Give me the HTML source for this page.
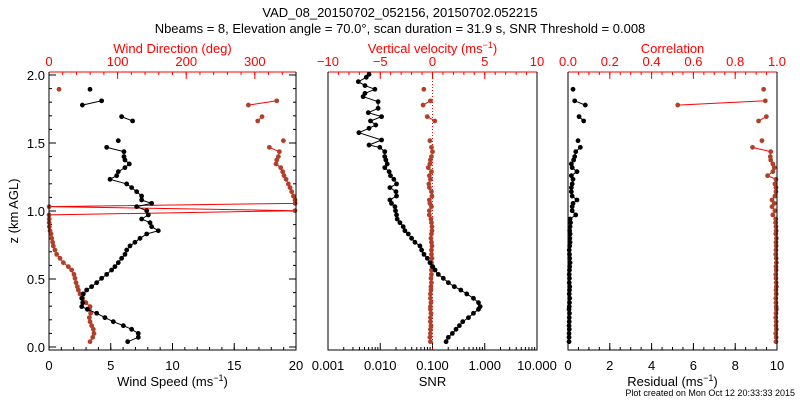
<!DOCTYPE html>
<html><head><meta charset="utf-8"><style>
html,body{margin:0;padding:0;background:#fff;}
svg{display:block;font-family:"Liberation Sans",sans-serif;}
</style></head><body>
<svg id="chart" width="800" height="400" viewBox="0 0 800 400" xmlns="http://www.w3.org/2000/svg">
<rect width="800" height="400" fill="#fff"/>
<text x="400" y="17" font-size="13" text-anchor="middle">VAD_08_20150702_052156, 20150702.052215</text>
<text x="400" y="33" font-size="13" text-anchor="middle">Nbeams = 8, Elevation angle = 70.0°, scan duration = 31.9 s, SNR Threshold = 0.008</text>
<text transform="translate(18,211) rotate(-90)" font-size="13" text-anchor="middle">z (km AGL)</text>
<text x="795" y="396" font-size="9" text-anchor="end">Plot created on Mon Oct 12 20:33:33 2015</text>
<g id="plots"></g>
</svg>
<script>
// Height gates (km AGL); null-valued entries break the connecting lines
const zGates = [0.039,0.071,0.100,0.130,0.157,0.186,0.216,0.248,0.277,0.297,0.326,0.358,0.390,0.419,0.444,0.473,0.505,0.534,0.566,0.591,0.620,0.652,0.681,0.713,0.743,0.770,0.799,0.831,0.855,0.885,0.914,0.941,0.971,1.002,1.032,1.056,1.081,1.110,1.142,1.172,1.199,1.233,1.260,1.289,1.319,1.346,1.375,1.400,1.436,1.468,1.490,1.517,1.580,1.662,1.694,1.740,1.779,1.810,1.850,1.895];
const windSpeed = [6.37,7.23,7.23,6.69,6.02,5.21,4.53,3.86,3.10,2.65,2.73,2.65,2.78,3.05,3.45,3.86,4.26,4.67,5.07,5.34,5.61,5.88,6.15,6.29,6.56,6.96,7.37,7.91,8.85,8.31,8.18,7.50,8.04,7.91,7.10,8.31,7.50,7.50,7.10,6.69,6.29,4.94,5.48,5.61,6.15,6.50,6.15,6.07,6.07,4.67,null,5.61,null,6.77,5.88,null,2.70,4.26,null,3.32];
const windDir = [59.8,63.7,65.6,64.6,62.2,59.8,58.8,60.7,58.8,59.8,53.9,49.1,45.2,42.8,41.3,39.4,37.9,36.4,33.0,28.2,20.9,16.0,11.2,8.7,6.3,5.3,3.9,2.9,1.5,0.5,0.2,0.3,0.1,358.5,0.2,358.8,358.6,356.2,353.7,351.3,348.9,345.5,342.6,340.6,337.7,330.9,331.9,334.3,335.8,321.2,null,341.6,null,304.2,310.5,null,290.6,331.9,null,14.6];
const vertVel = [-0.2,-0.25,-0.2,-0.2,-0.15,-0.2,-0.2,-0.15,-0.2,-0.2,-0.15,-0.2,-0.2,-0.15,-0.15,-0.1,-0.15,-0.1,-0.1,-0.05,-0.1,-0.05,-0.1,-0.1,-0.05,-0.1,-0.15,-0.1,-0.05,-0.05,-0.1,-0.15,-0.3,-0.3,-0.1,-0.25,-0.3,-0.05,-0.1,-0.3,-0.35,-0.2,-0.3,-0.1,-0.4,-0.25,-0.2,-0.1,0.0,-0.1,null,-0.25,null,0.22,-0.5,null,-0.9,-0.2,null,-0.83];
const residual = [0.05,0.05,0.05,0.06,0.05,0.06,0.06,0.07,0.05,0.06,0.07,0.08,0.06,0.07,0.08,0.06,0.07,0.06,0.07,0.08,0.1,0.08,0.07,0.06,0.08,0.1,0.09,0.1,0.08,0.1,0.12,0.1,0.37,0.2,0.2,0.24,0.43,0.2,0.16,0.16,0.2,0.24,0.16,0.43,0.2,0.16,0.27,0.32,0.37,0.59,null,0.48,null,0.75,0.53,null,0.83,0.32,null,0.24];
const correlation = [0.995,0.996,0.994,0.997,0.995,0.996,0.994,0.995,0.997,0.996,0.995,0.994,0.996,0.995,0.997,0.996,0.995,0.994,0.996,0.995,0.997,0.996,0.994,0.995,0.996,0.995,0.997,0.994,0.996,0.995,0.993,0.994,0.98,0.99,0.976,0.987,0.976,0.99,0.995,0.995,0.99,0.995,0.955,0.98,0.987,0.98,0.97,0.968,0.97,0.883,null,0.928,null,0.912,0.949,null,0.525,0.944,null,0.936];
// SNR profile (continuous)
const snrZ = [0.039,0.071,0.100,0.130,0.157,0.186,0.216,0.248,0.277,0.297,0.326,0.358,0.390,0.419,0.444,0.473,0.505,0.534,0.566,0.591,0.620,0.652,0.681,0.713,0.743,0.770,0.799,0.831,0.855,0.885,0.914,0.941,0.971,1.002,1.032,1.056,1.081,1.110,1.142,1.172,1.199,1.233,1.260,1.289,1.319,1.346,1.375,1.400,1.436,1.468,1.485,1.522,1.576,1.608,1.632,1.662,1.694,1.723,1.755,1.804,1.841,1.865,1.895,1.922,1.951,1.983,2.005];
const snr = [0.182,0.201,0.240,0.282,0.327,0.379,0.488,0.608,0.759,0.817,0.759,0.608,0.453,0.348,0.262,0.201,0.161,0.129,0.112,0.101,0.0895,0.0796,0.0687,0.0619,0.0575,0.0461,0.0398,0.0344,0.0296,0.0275,0.0238,0.0211,0.0205,0.0196,0.0191,0.0164,0.0153,0.0205,0.0200,0.0153,0.0205,0.0182,0.0157,0.0148,0.0122,0.0136,0.0128,0.0122,0.0122,0.0098,0.0061,0.0106,0.0039,0.0061,0.0082,0.0065,0.0106,0.0059,0.0091,0.0091,0.0047,0.0051,0.0079,0.0051,0.0038,0.0054,0.0061];
const zTickLabels = ["0.0","0.5","1.0","1.5","2.0"];
const speedTickLabels = ["0","5","10","15","20"];
const dirTickLabels = ["0","100","200","300"];
const snrTickLabels = ["0.001","0.010","0.100","1.000","10.000"];
const velTickLabels = ["\u221210","\u22125","0","5","10"];
const resTickLabels = ["0","2","4","6","8","10"];
const corTickLabels = ["0.0","0.2","0.4","0.6","0.8","1.0"];

const NS="http://www.w3.org/2000/svg";
const root=document.getElementById('plots');
const TOP=72,BOT=350,Z0=347,Z2=75;
const BROWN="#b0402a", RED="#ff0000";
function zy(z){return Z0+(Z2-Z0)*z/2;}
function mk(tag,attrs,parent){const e=document.createElementNS(NS,tag);for(const k in attrs)e.setAttribute(k,attrs[k]);(parent||root).appendChild(e);return e;}
function lin(a,b,x0,x1){return v=>x0+(v-a)/(b-a)*(x1-x0);}
function logs(a,b,x0,x1){return v=>x0+(Math.log10(v)-Math.log10(a))/(Math.log10(b)-Math.log10(a))*(x1-x0);}

function drawSeries(g,xf,zs,vals,lineColor,markColor,name){
  let d="",pen=false;
  for(let i=0;i<vals.length;i++){
    if(vals[i]===null){pen=false;continue;}
    const x=xf(vals[i]).toFixed(1),y=zy(zs[i]).toFixed(1);
    d+=(pen?"L":"M")+x+" "+y+" ";pen=true;
  }
  const p=mk('path',{d:d,fill:'none',stroke:lineColor,'stroke-width':1},g);
  
  
  for(let i=0;i<vals.length;i++){
    if(vals[i]===null)continue;
    const c=mk('circle',{cx:xf(vals[i]),cy:zy(zs[i]),r:2.4,fill:markColor},g);
    
    
  }
}

function panel(opt){
  const g=mk('g',{});
  
  
  const x0=opt.x0,x1=opt.x1;
  // bottom ticks
  const bf=opt.bottomScale;
  opt.bottomMinor.forEach(v=>{const x=bf(v);mk('line',{x1:x,x2:x,y1:BOT,y2:BOT-3,stroke:'#000'},g);});
  opt.bottomMajor.forEach((v,i)=>{const x=bf(v);mk('line',{x1:x,x2:x,y1:BOT,y2:BOT-7,stroke:'#000'},g);
    const t=mk('text',{x:x,y:370,'font-size':13,'text-anchor':'middle'},g);t.textContent=opt.bottomLabels[i];
    
    });
  const bt=mk('text',{x:(x0+x1)/2,y:386,'font-size':13,'text-anchor':'middle'},g);
  
  
  bt.innerHTML=opt.bottomTitle;
  // top ticks (red)
  const tf=opt.topScale;
  mk('line',{x1:x0,x2:x1,y1:TOP,y2:TOP,stroke:RED},g);
  opt.topMinor.forEach(v=>{const x=tf(v);mk('line',{x1:x,x2:x,y1:TOP,y2:TOP+3,stroke:RED},g);});
  opt.topMajor.forEach((v,i)=>{const x=tf(v);mk('line',{x1:x,x2:x,y1:TOP,y2:TOP+7,stroke:RED},g);
    const t=mk('text',{x:x,y:66,'font-size':13,'text-anchor':'middle',fill:RED},g);t.textContent=opt.topLabels[i];
    
    });
  const tt=mk('text',{x:(x0+x1)/2,y:53,'font-size':13,'text-anchor':'middle',fill:RED},g);
  
  
  tt.innerHTML=opt.topTitle;
  if(opt.zeroLine){const x=tf(0);const l=mk('line',{x1:x,x2:x,y1:TOP,y2:BOT,stroke:RED,'stroke-dasharray':'1,2'},g);
    
    }
  if(opt.yTicks){
    for(let k=0;k<=20;k++){const z=k/10,y=zy(z),len=(k%5==0)?7:3;
      mk('line',{x1:x0,x2:x0+len,y1:y,y2:y,stroke:'#000'},g);
      mk('line',{x1:x1,x2:x1-len,y1:y,y2:y,stroke:'#000'},g);}
    zTickLabels.forEach((s,i)=>{const t=mk('text',{x:x0-4,y:zy(i*0.5)+5,'font-size':13,'text-anchor':'end'},g);t.textContent=s;
      
      });
  }
  opt.series(g);
  const fr=mk('path',{d:`M${x0} ${TOP}V${BOT}H${x1}V${TOP}`,fill:'none',stroke:'#000'},g);
  
  
}
function range(a,b,s){const r=[];for(let v=a;v<=b+1e-9;v+=s)r.push(+v.toFixed(6));return r;}

// Panel 1
(function(){
  const x0=49,x1=296;
  const sx=lin(0,20,x0,x1), dx=lin(0,360,x0,x1);
  panel({name:'wind-panel',x0,x1,bottomScale:sx,bottomMajor:[0,5,10,15,20],bottomMinor:range(0,20,1),bottomLabels:speedTickLabels,
    bottomTitle:'Wind Speed (ms<tspan baseline-shift="super" font-size="9">\u22121</tspan>)',
    topScale:dx,topMajor:[0,100,200,300],topMinor:range(0,360,20),topLabels:dirTickLabels,topTitle:'Wind Direction (deg)',yTicks:true,
    series:g=>{drawSeries(g,dx,zGates,windDir,RED,BROWN,'wind-direction');drawSeries(g,sx,zGates,windSpeed,'#000','#000','wind-speed');}});
})();
// Panel 2
(function(){
  const x0=328,x1=537;
  const sx=logs(0.001,10,x0,x1), vx=lin(-10,10,x0,x1);
  const minor=[];for(let e=-3;e<1;e++)for(let m=2;m<=9;m++)minor.push(m*Math.pow(10,e));
  panel({name:'snr-panel',x0,x1,bottomScale:sx,bottomMajor:[0.001,0.01,0.1,1,10],bottomMinor:minor,bottomLabels:snrTickLabels,
    bottomTitle:'SNR',topScale:vx,topMajor:[-10,-5,0,5,10],topMinor:range(-10,10,1),topLabels:velTickLabels,
    topTitle:'Vertical velocity (ms<tspan baseline-shift="super" font-size="9">\u22121</tspan>)',zeroLine:true,
    series:g=>{drawSeries(g,vx,zGates,vertVel,RED,BROWN,'vertical-velocity');drawSeries(g,sx,snrZ,snr,'#000','#000','snr');}});
})();
// Panel 3
(function(){
  const x0=568,x1=777;
  const rx=lin(0,10,x0,x1), cx=lin(0,1,x0,x1);
  panel({name:'residual-panel',x0,x1,bottomScale:rx,bottomMajor:[0,2,4,6,8,10],bottomMinor:range(0,10,0.5),bottomLabels:resTickLabels,
    bottomTitle:'Residual (ms<tspan baseline-shift="super" font-size="9">\u22121</tspan>)',
    topScale:cx,topMajor:[0,0.2,0.4,0.6,0.8,1],topMinor:range(0,1,0.05),topLabels:corTickLabels,topTitle:'Correlation',
    series:g=>{drawSeries(g,cx,zGates,correlation,RED,BROWN,'correlation');drawSeries(g,rx,zGates,residual,'#000','#000','residual');}});
})();
</script>
</body></html>
